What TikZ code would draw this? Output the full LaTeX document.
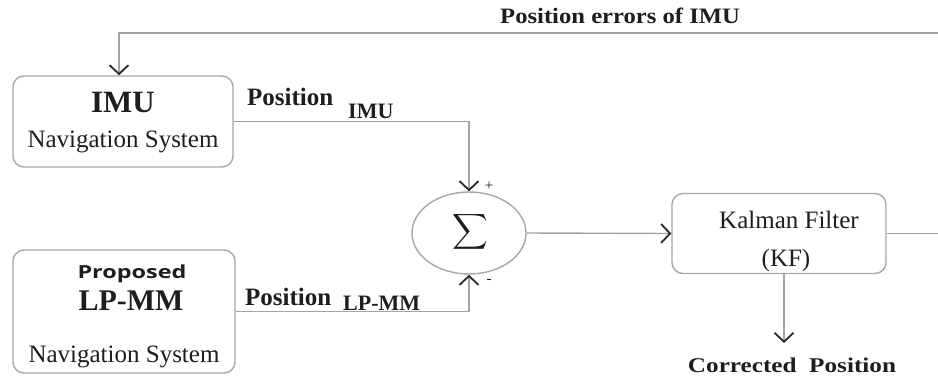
\documentclass[tikz,border=0pt]{standalone}
\usepackage{amsmath}
\usepackage{fontspec}
\setmainfont{Liberation Serif}
\newfontfamily\labelsans{Open Sans}
\usetikzlibrary{arrows.meta,shapes.geometric}
\definecolor{wiregray}{HTML}{A4A4A4}
\definecolor{boxgray}{HTML}{A8A8A8}
\definecolor{tipdark}{HTML}{2A2A2A}
\definecolor{inkdark}{HTML}{1E1E1E}
\begin{document}
\begin{tikzpicture}[x=1pt,y=-1pt,
  wire/.style={draw=wiregray,line width=1.4pt},
  tip/.style={-{Straight Barb[length=9pt,width=19pt,line width=1.8pt,color=tipdark]}},
  block/.style={draw=boxgray,line width=1.4pt,rounded corners=11pt,fill=white},
  txt/.style={inner sep=0pt,anchor=base,text=inkdark},
  lefttxt/.style={inner sep=0pt,anchor=base west,text=inkdark},
]
\useasboundingbox[fill=white] (0,0) rectangle (938,376);

% blocks
\node[block,minimum width=220pt,minimum height=91pt] (imu) at (123,121.5) {};
\node[block,minimum width=222pt,minimum height=123pt] (lp) at (124,311.5) {};
\node[block,minimum width=214pt,minimum height=80pt] (kf) at (779,233.5) {};
\node[ellipse,draw=boxgray,line width=1.4pt,minimum width=114pt,minimum height=82pt,inner sep=0pt] (sig) at (469,233) {};
\node[inner sep=0pt,text=inkdark] (sigT) at (470,232) {\fontsize{30}{30}\selectfont$\displaystyle\sum$};

% block texts
\node[txt] (imuT) at (123,112) {\fontsize{31}{31}\selectfont\bfseries IMU};
\node[txt] (imuN) at (123,147) {\fontsize{25}{25}\selectfont Navigation System};
\node[txt,xscale=1.3] (lpP) at (132,278) {\fontsize{18}{18}\selectfont\labelsans\bfseries Proposed};
\node[txt] (lpT) at (131,310) {\fontsize{30}{30}\selectfont\bfseries LP-MM};
\node[txt] (lpN) at (124,362) {\fontsize{25}{25}\selectfont Navigation System};
\node[txt] (kfT) at (789,228) {\fontsize{25}{25}\selectfont Kalman Filter};
\node[txt] (kfS) at (786,266) {\fontsize{25}{25}\selectfont (KF)};

% signal labels
\node[lefttxt] (posI) at (247,105) {\fontsize{25}{25}\selectfont\bfseries Position};
\node[lefttxt] (posIs) at (348,118) {\fontsize{22}{22}\selectfont\bfseries IMU};
\node[lefttxt] (posL) at (245,305) {\fontsize{25}{25}\selectfont\bfseries Position};
\node[lefttxt] (posLs) at (343,310) {\fontsize{22}{22}\selectfont\bfseries LP-MM};
\node[lefttxt,xscale=1.12] (err) at (500,23) {\fontsize{22}{22}\selectfont\bfseries Position errors of IMU};
\node[txt,xscale=1.2] (corr) at (792,372) {\fontsize{21}{21}\selectfont\bfseries Corrected\hspace{0.5em}Position};
\node[txt] (plus) at (489,190) {\fontsize{15}{15}\selectfont +};
\node[txt] (minus) at (489,283) {\fontsize{15}{15}\selectfont -};

% connectors
\coordinate (fbR) at (938,33);
\coordinate (fbL) at (119,33);
\coordinate (kfR) at (938,233.5);
\coordinate (kfD) at (784,273.5);
\coordinate (kfO) at (784,343);
\draw[wire,tip] (fbR) -- (fbL) -- (fbL |- imu.north);
\draw[wire,tip] (imu.east) -| (sig.north);
\draw[wire,tip] (lp.east) -| (sig.south);
\draw[wire,tip] (sig.east) -- (kf.west);
\draw[wire] (kf.east) -- (kfR);
\draw[wire,tip] (kfD) -- (kfO);
\end{tikzpicture}
\end{document}
